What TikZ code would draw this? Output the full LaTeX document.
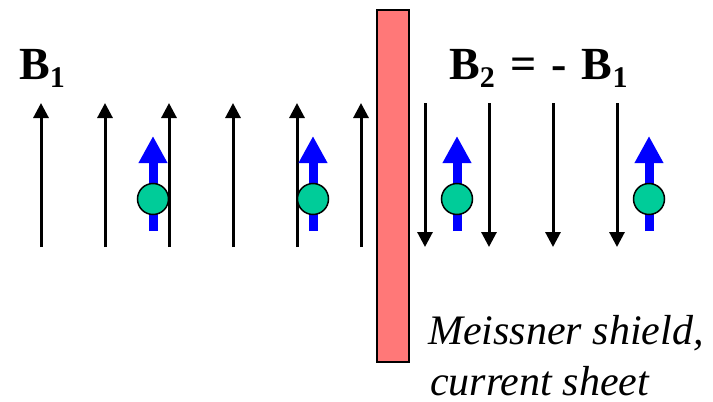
\documentclass[tikz,border=0pt]{standalone}
\usepackage{fontspec}
\setmainfont{Liberation Serif}
\usetikzlibrary{arrows.meta}
\definecolor{shield}{RGB}{255,120,120}
\definecolor{ball}{RGB}{0,204,153}
\newcommand{\subone}[1]{\raisebox{-8pt}{\fontsize{30}{30}\selectfont #1}}
\begin{document}
\begin{tikzpicture}[x=1pt,y=-1pt,
  field/.style={line width=3pt,-{Triangle[width=15pt,length=15pt]}},
  spin/.style={line width=9pt,blue,-{Triangle[width=27pt,length=27pt]}},
  particle/.style={circle,draw=black,line width=1.5pt,fill=ball,minimum size=31pt,inner sep=0pt},
  big/.style={font=\fontsize{46}{50}\selectfont\bfseries,inner sep=0pt,anchor=base west},
  label/.style={font=\fontsize{42}{53}\selectfont\itshape,inner sep=0pt,anchor=base west}]
\useasboundingbox (0,0) rectangle (713,402);
% upward field lines (left)
\foreach \x in {41,105,169,233,297,361}
  \draw[field] (\x,247) -- (\x,103);
% downward field lines (right)
\foreach \x in {425,489,553,617}
  \draw[field] (\x,103) -- (\x,247);
% spins
\foreach \x in {153,313,457,649}{
  \draw[spin] (\x,231) -- (\x,136);
  \node[particle] at (\x,199) {};
}
% shield
\draw[line width=2pt,fill=shield] (377,10) rectangle (409,362);
% labels
\node[big] (b1) at (19,79) {B\subone{1}};
\node[big] (b2) at (449,79) {B\subone{2}\hspace{4pt} =\hspace{3pt} -\hspace{4pt} B\subone{1}};
\node[label] (m1) at (428,344) {Meissner shield,};
\node[label] (m2) at (430,395) {current sheet};
\end{tikzpicture}
\end{document}
